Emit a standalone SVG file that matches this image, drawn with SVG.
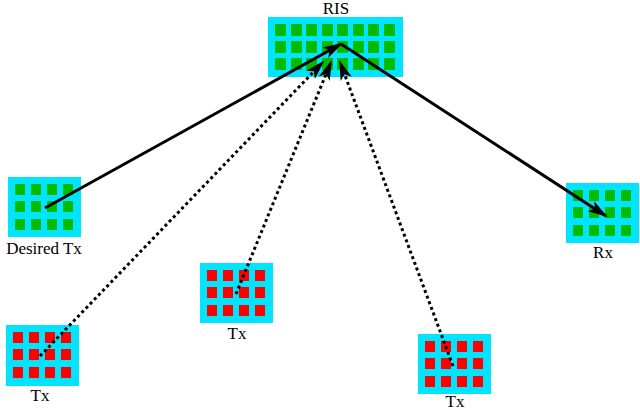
<svg xmlns="http://www.w3.org/2000/svg" width="640" height="410" viewBox="0 0 640 410">
<style>
.bg{fill:#00e5ff}.g{fill:#00bb00}.r{fill:#ff0000}
text{font-family:"Liberation Serif",serif;font-size:17px;fill:#000;text-anchor:middle}
.ln{stroke:#000;stroke-width:3;fill:none}
.dot{stroke-dasharray:3 3}
</style>
<defs>
<marker id="ah" viewBox="0 0 20 12" refX="18" refY="6" markerWidth="20" markerHeight="12" markerUnits="userSpaceOnUse" orient="auto"><path d="M0,0 L20,6 L0,12 L5,6 z" fill="#000"/></marker>
<g id="gg"><rect x="0" y="0" width="10" height="11"/><rect x="16" y="0" width="10" height="11"/><rect x="32" y="0" width="10" height="11"/><rect x="48" y="0" width="10" height="11"/>
<rect x="0" y="17" width="10" height="11"/><rect x="16" y="17" width="10" height="11"/><rect x="32" y="17" width="10" height="11"/><rect x="48" y="17" width="10" height="11"/>
<rect x="0" y="35" width="10" height="11"/><rect x="16" y="35" width="10" height="11"/><rect x="32" y="35" width="10" height="11"/><rect x="48" y="35" width="10" height="11"/></g>
</defs>
<g id="RIS"><rect class="bg" x="268" y="17" width="135" height="60"/>
<g class="g">
<rect x="275" y="24" width="11" height="12"/><rect x="291" y="24" width="11" height="12"/><rect x="306" y="24" width="11" height="12"/><rect x="322" y="24" width="11" height="12"/><rect x="337" y="24" width="11" height="12"/><rect x="353" y="24" width="11" height="12"/><rect x="368" y="24" width="11" height="12"/><rect x="384" y="24" width="11" height="12"/>
<rect x="275" y="41" width="11" height="12"/><rect x="291" y="41" width="11" height="12"/><rect x="306" y="41" width="11" height="12"/><rect x="322" y="41" width="11" height="12"/><rect x="337" y="41" width="11" height="12"/><rect x="353" y="41" width="11" height="12"/><rect x="368" y="41" width="11" height="12"/><rect x="384" y="41" width="11" height="12"/>
<rect x="275" y="58" width="11" height="12"/><rect x="291" y="58" width="11" height="12"/><rect x="306" y="58" width="11" height="12"/><rect x="322" y="58" width="11" height="12"/><rect x="337" y="58" width="11" height="12"/><rect x="353" y="58" width="11" height="12"/><rect x="368" y="58" width="11" height="12"/><rect x="384" y="58" width="11" height="12"/>
</g><text x="336" y="14">RIS</text></g>
<g id="DesiredTx"><rect class="bg" x="8" y="177" width="73" height="60"/><use href="#gg" class="g" x="15" y="184"/><text x="44" y="254">Desired Tx</text></g>
<g id="Rx"><rect class="bg" x="566" y="183" width="73" height="60"/><use href="#gg" class="g" x="573" y="190"/><text x="603" y="258">Rx</text></g>
<g id="Tx1"><rect class="bg" x="6" y="325" width="73" height="61"/><use href="#gg" class="r" x="13" y="332"/><text x="40" y="401">Tx</text></g>
<g id="Tx2"><rect class="bg" x="200" y="263" width="73" height="60"/><use href="#gg" class="r" x="207" y="270"/><text x="237" y="339">Tx</text></g>
<g id="Tx3"><rect class="bg" x="418" y="334" width="73" height="60"/><use href="#gg" class="r" x="425" y="341"/><text x="455" y="407">Tx</text></g>
<g id="connectors">
<line class="ln" x1="45" y1="208" x2="341" y2="44" marker-end="url(#ah)"/>
<line class="ln" x1="341" y1="44" x2="606" y2="216" stroke-width="4" marker-end="url(#ah)"/>
<line class="ln dot" x1="40" y1="356" x2="323" y2="62" marker-end="url(#ah)"/>
<line class="ln dot" x1="236" y1="294" x2="331" y2="62" marker-end="url(#ah)"/>
<line class="ln dot" x1="453" y1="366" x2="340" y2="62" marker-end="url(#ah)"/>
</g>
</svg>
